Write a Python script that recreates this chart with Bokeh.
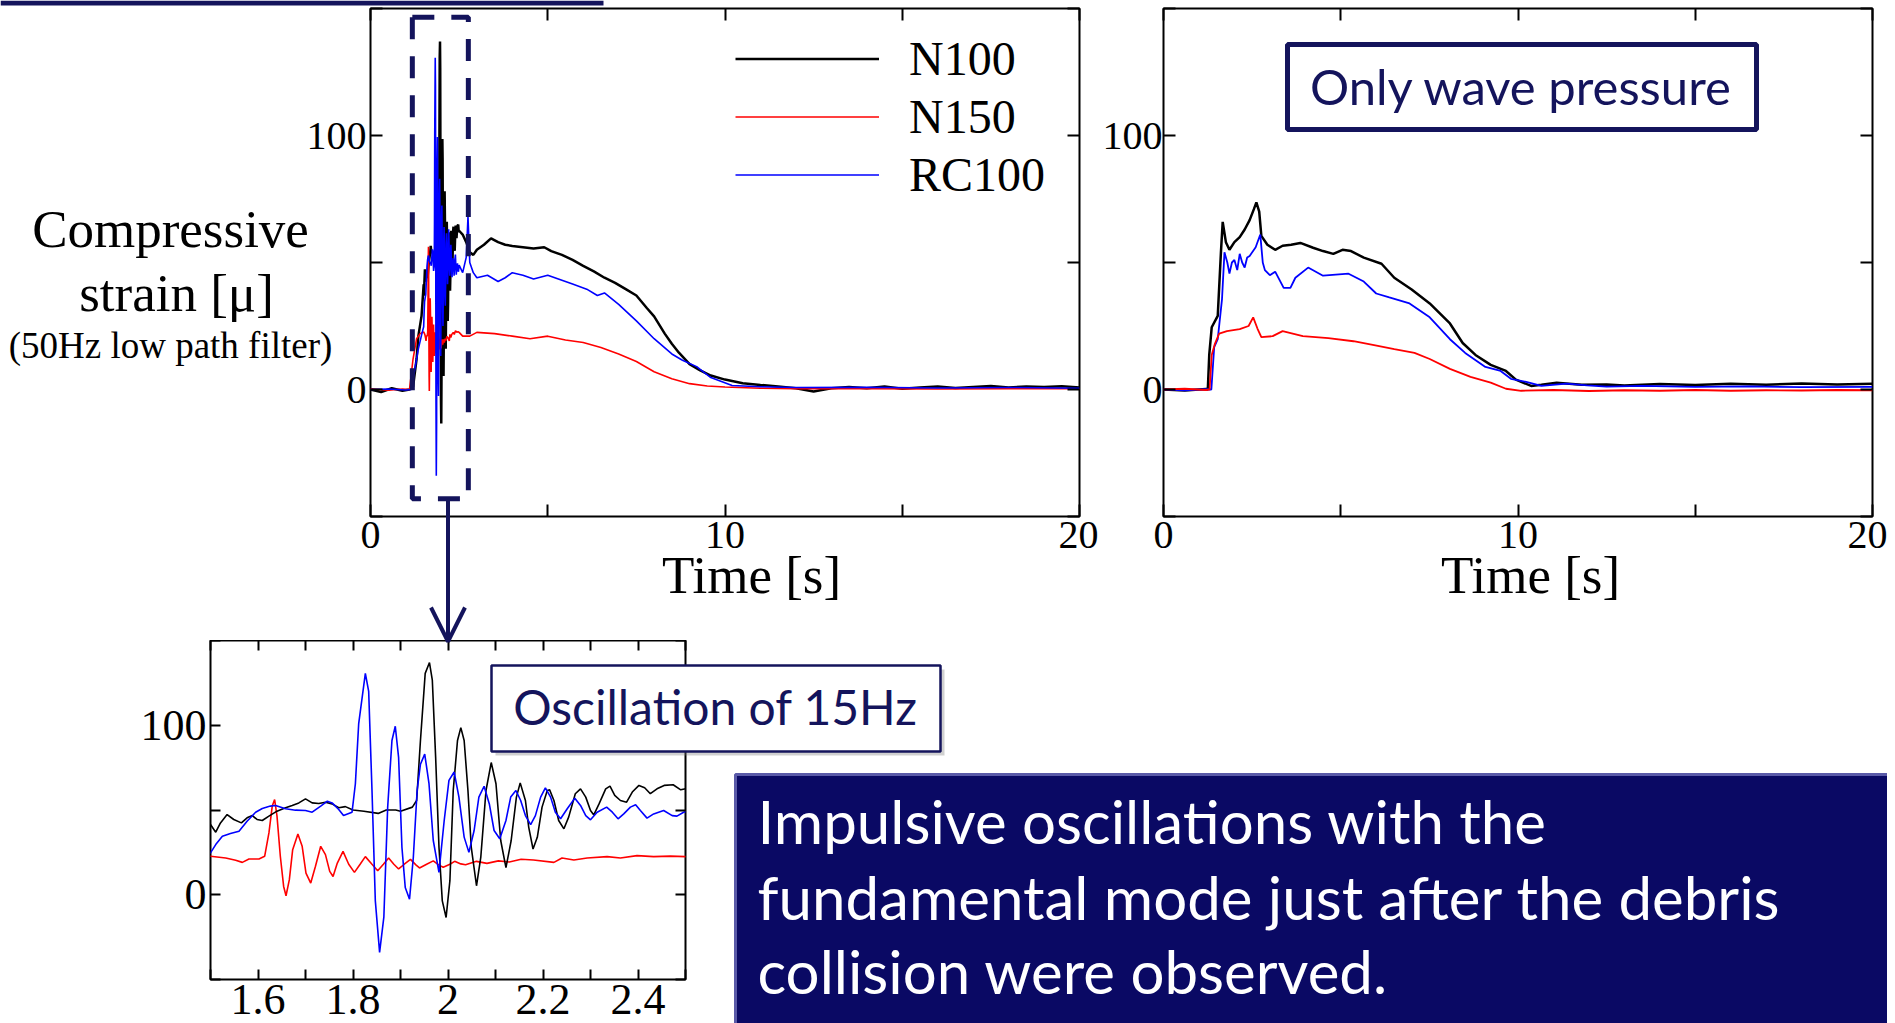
from bokeh.plotting import figure
from bokeh.models import (Range1d, LinearAxis, FixedTicker, CustomJSTickFormatter, Legend,
                          LegendItem, Label, BoxAnnotation, Arrow, OpenHead)
from bokeh.layouts import row, column
from bokeh.embed import file_html
from bokeh.resources import INLINE

# ---------------- data ----------------
SERIES = ["N100", "N150", "RC100"]
COLORS = ["#000000", "#ff0000", "#0000ff"]
NAVY = "#14145c"

# debris collision test (left panel); 1.5-2.5 s is the part shown magnified in the inset
n100_pts = [(0, 0.0), (0.3, -1.0), (0.6, 0.5), (0.9, -0.5), (1.1, 0.0), (1.2, 1.0), (1.3, 12), (1.35, 21), (1.44, 29),
            (1.5, 41.4), (1.511, 36.9), (1.521, 42.4), (1.535, 47.3), (1.549, 44.4), (1.565, 42.4), (1.577, 45.4),
            (1.588, 46.7), (1.598, 44.4), (1.609, 43.8), (1.623, 46.4), (1.64, 49.3), (1.658, 51.3), (1.672, 52.7),
            (1.686, 54.2), (1.7, 56.6), (1.714, 54.2), (1.728, 53.8), (1.742, 54.6), (1.756, 53.6), (1.77, 51.3),
            (1.784, 52), (1.8, 50), (1.823, 49.3), (1.853, 48), (1.87, 50), (1.89, 50), (1.9, 49.3),
            (1.925, 51.7), (1.934, 55.6), (1.942, 91), (1.952, 130.6), (1.961, 137), (1.967, 126.6), (1.974, 81),
            (1.981, 28), (1.988, -3.6), (1.996, -13.4), (2.004, 8.3), (2.011, 61.5), (2.02, 91), (2.027, 98.6),
            (2.034, 91), (2.042, 61.5), (2.049, 28), (2.06, 5.3), (2.069, 22), (2.08, 61.5), (2.091, 78),
            (2.101, 65.5), (2.111, 32), (2.122, 16), (2.133, 32), (2.144, 57.6), (2.152, 66), (2.163, 55.6),
            (2.17, 39.8), (2.179, 27), (2.188, 33.9), (2.198, 51.7), (2.209, 61.5), (2.214, 61.9), (2.223, 55.6),
            (2.233, 43.8), (2.244, 38.9), (2.254, 45.8), (2.268, 59.6), (2.279, 62.5), (2.29, 57.6), (2.3, 49.7),
            (2.307, 47.1), (2.318, 53.6), (2.332, 62.5), (2.341, 64.1), (2.351, 58.6), (2.363, 55.6),
            (2.376, 54.6), (2.388, 60.6), (2.402, 64.5), (2.414, 63.1), (2.426, 59.6), (2.44, 62.5),
            (2.455, 64.5), (2.474, 64.9), (2.49, 61.9), (2.5, 62.5),
            (2.6, 61), (2.7, 58), (2.8, 54), (2.9, 53), (3.0, 55), (3.2, 57), (3.4, 59.5), (3.6, 58), (3.8, 57),
            (4.0, 56.5), (4.3, 56), (4.6, 55.5), (4.9, 56), (5.1, 54.5), (5.4, 53), (5.7, 51), (6.0, 48.7),
            (6.3, 46.5), (6.6, 44), (6.9, 42), (7.2, 39.5), (7.5, 37), (7.8, 32), (8.0, 28.8), (8.3, 22),
            (8.5, 18), (8.7, 14.5), (9.0, 10), (9.3, 7.5), (9.6, 5.5), (10.0, 3.9), (10.5, 2.5), (11.0, 1.8),
            (11.5, 1.2), (12.0, 0.5), (12.5, -0.8), (13.0, 0.5), (13.5, 1.0), (14.0, 0.5), (14.5, 1.2),
            (15.0, 0.3), (15.5, 0.8), (16.0, 1.2), (16.5, 0.6), (17.0, 1.0), (17.5, 1.4), (18.0, 0.8),
            (18.5, 1.2), (19.0, 1.0), (19.5, 1.3), (20.0, 0.8)]

n150_pts = [(0, 0.3), (0.5, -0.3), (0.9, 0.2), (1.1, 0.0), (1.2, 12), (1.3, 20), (1.4, 22),
            (1.5, 22.7), (1.532, 21.7), (1.553, 20.3), (1.567, 19.1), (1.581, 21.1), (1.602, 21.1), (1.614, 22.7),
            (1.623, 36.5), (1.63, 52.3), (1.635, 56.2), (1.64, 46.4), (1.647, 22.7), (1.654, 4.9), (1.659, -0.6),
            (1.666, 8.9), (1.673, 26.6), (1.684, 35.9), (1.693, 28.6), (1.701, 12.8), (1.711, 6.9), (1.721, 16.8),
            (1.732, 28.6), (1.742, 23.7), (1.751, 13.8), (1.758, 10.8), (1.767, 18.7), (1.779, 25.6),
            (1.791, 18), (1.803, 13.2), (1.815, 18), (1.826, 22.5), (1.84, 18), (1.852, 14.2), (1.864, 18),
            (1.875, 21.7), (1.886, 18), (1.896, 15.2), (1.908, 18), (1.921, 20.9), (1.933, 17.5), (1.94, 15.8),
            (1.955, 18), (1.969, 20), (1.981, 17.5), (1.99, 16.2), (2.004, 18), (2.014, 19.7), (2.027, 18.2),
            (2.037, 17.7), (2.06, 19.7), (2.082, 18.5), (2.106, 20), (2.129, 19.3), (2.154, 20.9), (2.18, 20.5),
            (2.223, 19.1), (2.24, 21.7), (2.265, 20.5), (2.293, 21.7), (2.335, 22.5), (2.363, 21.7),
            (2.398, 23.1), (2.433, 22.5), (2.468, 22.8), (2.5, 22.5),
            (2.6, 21), (2.8, 21), (3.0, 22.5), (3.5, 22), (4.0, 21), (4.5, 20), (5.0, 21), (5.5, 19.5),
            (6.0, 18.5), (6.5, 16.5), (7.0, 14), (7.5, 11), (8.0, 7), (8.5, 4.2), (9.0, 2.3), (9.5, 1.4),
            (10.0, 1.0), (11.0, 0.5), (12.0, 0.3), (14.0, 0.3), (16.0, 0.2), (18.0, 0.3), (20.0, 0.3)]

rc100_pts = [(0, 0.0), (0.5, 0.2), (1.0, -0.2), (1.15, 0.0), (1.25, 8), (1.35, 16), (1.45, 22),
             (1.5, 24.7), (1.511, 29.6), (1.525, 34.5), (1.542, 36.1), (1.56, 37.5), (1.577, 43.4), (1.595, 48.7),
             (1.609, 50.9), (1.626, 52.3), (1.637, 52.7), (1.658, 50.7), (1.679, 49.9), (1.7, 49.7),
             (1.714, 48.7), (1.732, 52.3), (1.746, 55.2), (1.756, 54.2), (1.77, 50.3), (1.78, 46.7),
             (1.798, 48.7), (1.805, 65.5), (1.812, 101), (1.826, 130.6), (1.833, 120), (1.84, 61.5),
             (1.847, -3.6), (1.856, -34), (1.865, -13), (1.873, 51.7), (1.882, 91), (1.889, 99.4), (1.896, 81),
             (1.903, 28), (1.91, 4.3), (1.919, -2.6), (1.927, 22), (1.935, 61.5), (1.942, 77), (1.951, 83),
             (1.96, 65.5), (1.969, 32), (1.981, 13.2), (1.992, 43.8), (2.002, 67.5), (2.013, 72.4), (2.023, 57.6),
             (2.034, 34), (2.044, 25), (2.055, 37.9), (2.065, 57.6), (2.076, 64), (2.087, 53.6), (2.097, 37.9),
             (2.109, 33), (2.122, 43.8), (2.132, 57.6), (2.143, 61.5), (2.153, 55.6), (2.163, 46.7),
             (2.174, 41.4), (2.184, 46.7), (2.195, 57.6), (2.205, 63.1), (2.216, 57.6), (2.226, 48.7),
             (2.237, 44.8), (2.251, 50.7), (2.267, 57), (2.279, 52.7), (2.29, 46.7), (2.3, 44.2), (2.314, 48.7),
             (2.334, 51.7), (2.346, 48.7), (2.358, 44.8), (2.37, 47.7), (2.384, 51.7), (2.395, 53.1),
             (2.405, 49.7), (2.419, 45.2), (2.433, 47.7), (2.454, 49.7), (2.472, 46.7), (2.482, 46.4),
             (2.496, 48.7), (2.5, 49),
             (2.6, 46), (2.7, 52), (2.75, 68), (2.8, 50), (2.9, 46), (3.0, 44), (3.3, 45), (3.6, 42.5),
             (3.8, 44), (4.0, 46), (4.3, 45), (4.6, 43.5), (5.0, 45), (5.3, 43.5), (5.7, 41.5), (6.1, 39.5),
             (6.4, 37), (6.6, 38), (7.0, 33.5), (7.5, 27), (8.0, 20), (8.5, 14), (8.8, 11.5), (9.2, 9),
             (9.6, 4.7), (10.2, 1.6), (11.0, 1.1), (12.0, 0.8), (14.0, 0.9), (16.0, 0.6), (18.0, 0.8), (20.0, 0.5)]

# wave pressure only test (right panel)
n100_wave_pts = [(0, 0.0), (0.6, -0.4), (1.2, 0.2), (1.25, 0.0), (1.29, 13.6), (1.36, 24.5), (1.53, 29),
                 (1.62, 54), (1.67, 66), (1.76, 58), (1.86, 55), (2.0, 58), (2.15, 60), (2.29, 63),
                 (2.43, 66.7), (2.55, 71), (2.62, 73.7), (2.7, 70), (2.76, 60.5), (2.93, 57), (3.15, 55),
                 (3.36, 56.6), (3.6, 57), (3.86, 57.7), (4.22, 55.8), (4.5, 54.5), (4.79, 53.4), (5.05, 55),
                 (5.29, 54.5), (5.65, 51.9), (6.15, 49.5), (6.51, 44), (7.0, 39.4), (7.51, 33.9), (8.08, 26),
                 (8.44, 18.3), (8.8, 13.6), (9.23, 9.7), (9.66, 7.3), (9.94, 3.9), (10.37, 1.4), (10.66, 1.9),
                 (11.09, 2.7), (11.8, 1.9), (12.5, 2.0), (13.0, 1.6), (14.0, 2.2), (15.0, 1.8), (16.0, 2.3),
                 (17.0, 1.9), (18.0, 2.4), (19.0, 2.0), (20.0, 2.3)]

n150_wave_pts = [(0, 0.0), (0.6, 0.3), (1.2, -0.2), (1.3, 0.0), (1.36, 13.6), (1.45, 18), (1.57, 22),
                 (1.79, 23), (2.15, 23.75), (2.4, 25), (2.53, 28.4), (2.65, 24), (2.76, 20.6), (3.08, 21),
                 (3.36, 23), (3.93, 21), (4.65, 20.2), (5.36, 19), (5.94, 17.5), (6.51, 15.9), (7.08, 14.4),
                 (7.51, 12), (8.08, 8.1), (8.66, 5), (9.23, 2.7), (9.66, 0.3), (10.09, -0.5), (11.0, -0.2),
                 (12.0, -0.6), (13.0, -0.3), (14.0, -0.5), (15.0, -0.2), (16.0, -0.5), (17.0, -0.3),
                 (18.0, -0.4), (19.0, -0.2), (20.0, -0.3)]

rc100_wave_pts = [(0, 0.0), (0.6, -0.3), (1.2, 0.1), (1.35, 0.0), (1.43, 16.7), (1.53, 19.8), (1.65, 35.5),
                  (1.72, 54), (1.8, 50), (1.86, 45.6), (1.93, 50), (2.0, 51), (2.08, 47), (2.15, 53.4),
                  (2.22, 50), (2.29, 48), (2.36, 52), (2.43, 52.6), (2.6, 56), (2.73, 61), (2.8, 50),
                  (2.86, 47), (3.0, 45), (3.15, 46.4), (3.39, 40), (3.58, 40), (3.72, 44), (4.08, 48),
                  (4.5, 44.8), (5.22, 45.6), (5.65, 42.5), (6.0, 37.8), (6.37, 36.25), (6.94, 33.9),
                  (7.51, 28.4), (8.08, 19.8), (8.51, 14.4), (9.08, 8.9), (9.51, 7.3), (9.8, 4.2), (10.23, 3.0),
                  (10.66, 1.4), (11.37, 2.3), (11.95, 1.6), (12.5, 1.1), (13.5, 1.4), (15.0, 1.0), (16.5, 1.2),
                  (18.0, 0.9), (20.0, 1.0)]

main_x_ticks = [0, 5, 10, 15, 20]
main_y_ticks = [-50, 0, 50, 100, 150]
inset_x_ticks = [1.5, 1.6, 1.7, 1.8, 1.9, 2.0, 2.1, 2.2, 2.3, 2.4, 2.5]
zoom_window = (1.18, 2.76, -43, 146.6)   # left, right, bottom, top (data units)

Y_LABEL = ["Compressive", "strain [\u03bc]", "(50Hz low path filter)"]
X_LABEL = "Time [s]"
WAVE_NOTE = "Only wave pressure"
INSET_NOTE = "Oscillation of 15Hz"
SUMMARY = ["Impulsive oscillations with the", "fundamental mode just after the debris",
           "collision were observed."]

SERIF = "Liberation Serif"
SANS = "Lato"
PAGE_W, PAGE_H = 1887, 1023


def unzip(pts):
    return [a for a, _ in pts], [b for _, b in pts]


def style_axis(ax, ticks, fmt_code, size, tick_len, standoff=5):
    ax.ticker = FixedTicker(ticks=ticks)
    ax.formatter = CustomJSTickFormatter(code=fmt_code)
    ax.major_tick_in = tick_len
    ax.major_tick_out = 0
    ax.minor_tick_in = 0
    ax.minor_tick_out = 0
    ax.major_tick_line_width = 2
    ax.major_tick_line_color = "black"
    ax.axis_line_color = None
    ax.major_label_text_font = SERIF
    ax.major_label_text_font_size = size
    ax.major_label_text_color = "black"
    ax.major_label_standoff = standoff


def panel(width, height, xr, yr, borders, xticks, yticks, xfmt, yfmt, size, tick_len, ystand=4):
    l, r, t, b = borders
    p = figure(width=width, height=height, x_range=Range1d(*xr), y_range=Range1d(*yr),
               output_backend="svg", toolbar_location=None,
               min_border_left=l, min_border_right=r, min_border_top=t, min_border_bottom=b)
    p.grid.visible = False
    p.outline_line_color = "black"
    p.outline_line_width = 2
    p.background_fill_color = "white"
    p.border_fill_color = "white"
    style_axis(p.xaxis[0], xticks, xfmt, size, tick_len)
    style_axis(p.yaxis[0], yticks, yfmt, size, tick_len, standoff=ystand)
    top = LinearAxis()
    right = LinearAxis()
    for ax, tk in ((top, xticks), (right, yticks)):
        style_axis(ax, tk, "return '';", "0px", tick_len, standoff=0)
    p.add_layout(top, "above")
    p.add_layout(right, "right")
    return p


XFMT = "return (tick % 10 == 0) ? String(tick) : '';"
YFMT = "return (tick == 0 || tick == 100) ? String(tick) : '';"
IXFMT = "const k = Math.round(tick*10); return (k % 2 == 0) ? String(k/10) : '';"

# ---------------- left panel ----------------
p1 = panel(1098, 640, (0, 20), (-50, 150), (370, 19, 8, 124), main_x_ticks, main_y_ticks, XFMT, YFMT, "40px", 12)
renderers = []
for pts, c, w in ((n100_pts, COLORS[0], 2.5), (n150_pts, COLORS[1], 1.6), (rc100_pts, COLORS[2], 1.6)):
    x, y = unzip(pts)
    renderers.append(p1.line(x, y, line_color=c, line_width=w))

legend = Legend(items=[LegendItem(label=s, renderers=[r]) for s, r in zip(SERIES, renderers)],
                location=(365, 314), glyph_width=144, glyph_height=55, label_height=55, label_standoff=30,
                spacing=3, padding=0, margin=0, border_line_color=None, background_fill_alpha=0,
                label_text_font=SERIF, label_text_font_size="48px", label_text_color="black")
p1.add_layout(legend, "center")

zl, zr, zb, zt = zoom_window
p1.add_layout(BoxAnnotation(left=zl, right=zr, bottom=zb, top=zt, fill_alpha=0, line_color=NAVY,
                            line_alpha=1, line_width=5, line_dash="22 17"))

# ---------------- right panel ----------------
p2 = panel(789, 640, (0, 20), (-50, 150), (65, 15, 8, 124), main_x_ticks, main_y_ticks, XFMT, YFMT, "40px", 12,
           ystand=1)
for pts, c, w in ((n100_wave_pts, COLORS[0], 2.5), (rc100_wave_pts, COLORS[2], 1.8), (n150_wave_pts, COLORS[1], 1.8)):
    x, y = unzip(pts)
    p2.line(x, y, line_color=c, line_width=w)

# ---------------- inset (detail) ----------------
p3 = panel(1887, 383, (1.5, 2.5), (-50, 150), (210, 1202, 0, 44), inset_x_ticks, main_y_ticks, IXFMT, YFMT,
           "44px", 10)
for pts, c in ((n150_pts, COLORS[1]), (n100_pts, COLORS[0]), (rc100_pts, COLORS[2])):
    x, y = unzip(pts)
    p3.line(x, y, line_color=c, line_width=1.6)

# ---------------- overlay for slide annotations (page pixel coordinates) ----------------
deco = figure(width=PAGE_W, height=PAGE_H, x_range=Range1d(0, PAGE_W), y_range=Range1d(PAGE_H, 0),
              output_backend="svg", toolbar_location=None, x_axis_type=None, y_axis_type=None,
              min_border=0, min_border_left=0, min_border_right=0, min_border_top=0, min_border_bottom=0,
              styles={"position": "absolute", "left": "0px", "top": "0px"})
deco.grid.visible = False
deco.outline_line_color = None
deco.background_fill_color = None
deco.border_fill_color = None

# title bar remnant at the top-left
deco.quad(left=[0], right=[603], top=[0], bottom=[5], fill_color=NAVY, line_color=None)
# arrow from the zoom window to the inset
deco.add_layout(Arrow(end=OpenHead(size=34, line_width=4, line_color=NAVY), x_start=447.5, y_start=497,
                      x_end=447.5, y_end=641, line_color=NAVY, line_width=4))
# axis titles (y = visual text centre)
for txt, xx, yy, fs in ((Y_LABEL[0], 170, 228, "53px"), (Y_LABEL[1], 176, 292, "53px"),
                        (Y_LABEL[2], 170, 345, "37px")):
    deco.add_layout(Label(x=xx, y=yy, text=txt, text_font=SERIF, text_font_size=fs, text_align="center",
                          text_baseline="alphabetic", text_color="black"))
for xx in (751, 1530):
    deco.add_layout(Label(x=xx, y=574, text=X_LABEL, text_font=SERIF, text_font_size="53px",
                          text_align="center", text_baseline="alphabetic", text_color="black"))
# "Only wave pressure"
deco.quad(left=[1287], right=[1756], top=[44], bottom=[129], fill_color="white", line_color=NAVY, line_width=5)
deco.add_layout(Label(x=1521, y=85, text=WAVE_NOTE, text_font=SANS, text_font_size="49px",
                      text_align="center", text_baseline="alphabetic", text_color=NAVY))
# "Oscillation of 15Hz"
deco.quad(left=[495], right=[944], top=[669], bottom=[755], fill_color="#777777", fill_alpha=0.35, line_color=None)
deco.quad(left=[491], right=[940], top=[665], bottom=[751], fill_color="white", line_color=NAVY, line_width=2.5)
deco.add_layout(Label(x=715, y=706, text=INSET_NOTE, text_font=SANS, text_font_size="48px",
                      text_align="center", text_baseline="alphabetic", text_color=NAVY))
# summary box
deco.quad(left=[735], right=[1888], top=[774], bottom=[1030], fill_color="#0a0964", line_color="#5a5aa8",
          line_width=3)
for txt, yy in zip(SUMMARY, (820, 896, 970)):
    deco.add_layout(Label(x=757, y=yy, text=txt, text_font=SANS, text_font_size="60px", text_align="left",
                          text_baseline="alphabetic", text_color="white"))

layout = column(row(p1, p2), p3)
open("out.html", "w").write(file_html([layout, deco], INLINE))
